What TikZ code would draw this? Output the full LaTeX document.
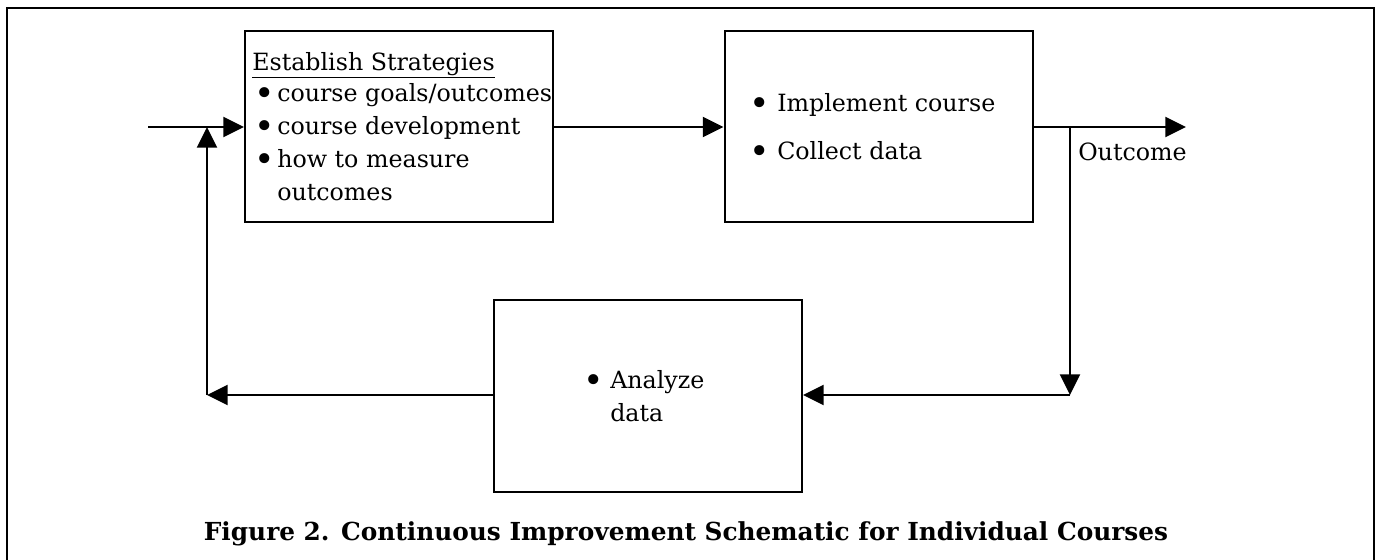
\documentclass[tikz,border=0pt]{standalone}
\usepackage{fontspec}
\setmainfont{DejaVu Serif}
\usetikzlibrary{arrows.meta}
\newcommand{\bigbul}{\raisebox{-3pt}{\fontsize{26}{26}\selectfont •}}
\begin{document}
\begin{tikzpicture}[x=0.75pt,y=-0.75pt,
  box/.style={draw, line width=1.5pt, inner sep=0pt, minimum width=231pt, minimum height=143.25pt},
  txt/.style={inner sep=0pt, anchor=base west, font=\fontsize{17.8}{20}\selectfont},
  bul/.style={inner sep=0pt, anchor=base},
  capt/.style={inner sep=0pt, anchor=base, font=\fontsize{18.6}{22}\selectfont\bfseries},
  conn/.style={line width=1.5pt},
  arr/.style={conn, -{Triangle[length=15.5pt,width=15pt]}}]
\path[use as bounding box, clip] (0,0) rectangle (1375,560);
\draw[line width=1.5pt] (7,8) rectangle (1374,590);
% boxes
\node[box] (b1) at (399,126.5) {};
\node[box] (b2) at (878.5,126.5) {};
\node[box, minimum height=144pt] (b3) at (648,396) {};
% coordinates
\coordinate (in) at (148,127);
\coordinate (out) at (1186,127);
\coordinate (j1) at (1070,127);
\coordinate (j2) at (1070,395);
\coordinate (j3) at (207,395);
\coordinate (j4) at (207,127);
% connectors
\draw[arr] (in) -- (b1.west |- in);
\draw[arr] (b1.east |- in) -- (b2.west |- in);
\draw[arr] (b2.east |- in) -- (out);
\draw[arr] (j1) -- (j2);
\draw[arr] (j2) -- (b3.east |- j2);
\draw[arr] (b3.west |- j2) -- (j3);
\draw[arr] (j3) -- (j4);
% box 1 text
\node[txt] (t10) at (252,70) {\underline{Establish Strategies}};
\node[bul] (p11) at (265,102) {\bigbul};
\node[txt] (t11) at (277,102) {course goals/outcomes};
\node[bul] (p12) at (265,134) {\bigbul};
\node[txt] (t12) at (277,134) {course development};
\node[bul] (p13) at (265,167) {\bigbul};
\node[txt] (t13) at (277,167) {how to measure};
\node[txt] (t14) at (277,200) {outcomes};
% box 2 text
\node[bul] (p21) at (760,112) {\bigbul};
\node[txt] (t21) at (777,112) {Implement course};
\node[bul] (p22) at (760,159) {\bigbul};
\node[txt] (t22) at (777,159) {Collect data};
% box 3 text
\node[bul] (p31) at (594,388) {\bigbul};
\node[txt] (t31) at (610,388) {Analyze};
\node[txt] (t32) at (610,421) {data};
% outcome label
\node[txt] (oc) at (1078,160) {Outcome};
% caption
\node[capt] (cap) at (686,540) {Figure 2. Continuous Improvement Schematic for Individual Courses};
\end{tikzpicture}
\end{document}
